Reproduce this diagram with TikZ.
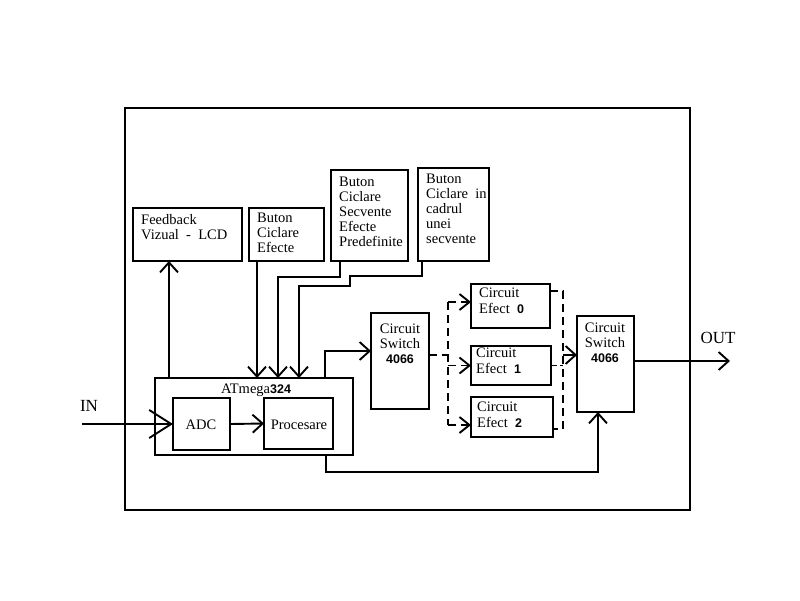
\documentclass[tikz,border=0pt]{standalone}
\usepackage{fontspec}
\setmainfont{Liberation Serif}
\setsansfont{Liberation Sans}
\usetikzlibrary{arrows.meta}
\newcommand\dg[1]{{\sffamily\bfseries\fontsize{12.5}{14}\selectfont #1}}
\begin{document}
\begin{tikzpicture}[x=1pt,y=-1pt,
  lw/.style={line width=1.9pt},
  blk/.style={draw,lw,rectangle,inner sep=0,outer sep=0,anchor=north west},
  txt/.style={inner sep=0,align=left,anchor=base west,font=\fontsize{14.5}{14.8}\selectfont},
  ctxt/.style={inner sep=0,align=center,anchor=base,font=\fontsize{14.5}{14.8}\selectfont},
  arr/.style={lw,-{Straight Barb[length=10pt,width=18pt]}},
  arrbig/.style={lw,-{Straight Barb[length=22pt,width=28pt]}},
  dsh/.style={lw,dash pattern=on 8pt off 5pt},
  dsharr/.style={dsh,-{Straight Barb[length=10pt,width=16pt]}}]
\useasboundingbox (0,0) rectangle (800,600);
% frame
\node[blk,minimum width=565pt,minimum height=402pt] (frame) at (125,108) {};
% boxes
\node[blk,minimum width=109pt,minimum height=53pt] (fb) at (133,208) {};
\node[blk,minimum width=75pt,minimum height=53pt] (be) at (249,208) {};
\node[blk,minimum width=77pt,minimum height=91pt] (bs) at (331,170) {};
\node[blk,minimum width=71pt,minimum height=93pt] (bi) at (418,168) {};
\node[blk,minimum width=198pt,minimum height=77pt] (atm) at (155,378) {};
\node[blk,minimum width=57pt,minimum height=52pt] (adc) at (173,398) {};
\node[blk,minimum width=69pt,minimum height=51pt] (proc) at (264,398) {};
\node[blk,minimum width=58pt,minimum height=96pt] (sw1) at (371,313) {};
\node[blk,minimum width=79pt,minimum height=44pt] (e0) at (471,284) {};
\node[blk,minimum width=80pt,minimum height=39pt] (e1) at (471,346) {};
\node[blk,minimum width=82pt,minimum height=40pt] (e2) at (471,397) {};
\node[blk,minimum width=57pt,minimum height=96pt] (sw2) at (577,316) {};
% texts (anchor = baseline of last line)
\node[txt] (fbt) at (141,239.5) {Feedback\\Vizual\ \ -\ \ LCD};
\node[txt] (bet) at (257,252) {Buton\\Ciclare\\Efecte};
\node[txt] (bst) at (339,246) {Buton\\Ciclare\\Secvente\\Efecte\\Predefinite};
\node[txt,font=\fontsize{14.5}{15}\selectfont] (bit) at (426,243) {Buton\\Ciclare\ \ in\\cadrul\\unei\\secvente};
\node[ctxt] (atmt) at (256,393) {ATmega\dg{324}};
\node[ctxt] (adct) at (201,429) {ADC};
\node[ctxt] (proct) at (299,429) {Procesare};
\node[ctxt] (sw1t) at (400,363) {Circuit\\Switch\\\dg{4066}};
\node[ctxt] (sw2t) at (605,362) {Circuit\\Switch\\\dg{4066}};
\node[txt,font=\fontsize{14.5}{15.5}\selectfont] (e0t) at (479,313) {Circuit\\Efect\ \ \dg{0}};
\node[txt,font=\fontsize{14.5}{15.5}\selectfont] (e1t) at (476,373) {Circuit\\Efect\ \ \dg{1}};
\node[txt,font=\fontsize{14.5}{15.5}\selectfont] (e2t) at (477,427) {Circuit\\Efect\ \ \dg{2}};
\node[ctxt,font=\fontsize{17}{18}\selectfont] (inl) at (89,411) {IN};
\node[ctxt,font=\fontsize{17}{18}\selectfont] (outl) at (718,343) {OUT};
% coordinates
\coordinate (in) at (82,424);
\coordinate (out) at (730,361);
\coordinate (sl) at (448,355);
\coordinate (mr) at (563,355);
\coordinate (e0in) at ([yshift=4pt]e0.west);
\coordinate (e1in) at (e1.west);
\coordinate (e2in) at ([yshift=-8pt]e2.west);
% connectors
\draw[arr] ([xshift=14pt]atm.north west) -- ([xshift=14pt]atm.north west |- fb.south);
\draw[arr] ([xshift=8pt]be.south west) -- ([xshift=8pt]be.south west |- atm.north);
\draw[arr] ([xshift=9pt]bs.south west) -- ++(0,16) -| ([xshift=123pt]atm.north west);
\draw[arr] ([xshift=4pt]bi.south west) -- ++(0,15) -- ++(-72,0) -- ++(0,10) -| ([xshift=144pt]atm.north west);
\draw[arr] ([xshift=170pt]atm.north west) |- ([yshift=10pt]sw1.west);
\draw[arrbig] (in) -- (in -| adc.west);
\draw[arr] (adc.east) -- (proc.west);
\draw[arr] ([xshift=171pt]atm.south west) -- ++(0,17) -| ([xshift=21pt]sw2.south west);
\draw[arr] ([yshift=3pt]sw2.east) -- (out);
% dashed
\draw[dsh] ([yshift=6pt]sw1.east) -- (sl);
\draw[dsh] (e0in -| sl) -- (e2in -| sl);
\draw[dsharr] (e0in -| sl) -- (e0in);
\draw[dsharr] (e1in -| sl) -- (e1in);
\draw[dsharr] (e2in -| sl) -- (e2in);
\draw[dsh] ([yshift=15pt]e0.east) -- ++(13,0) |- ([yshift=-12pt]e2.east);
\draw[lw,dash pattern=on 6pt off 3pt] (e1.east) -- (e1.east -| mr);
\draw[arr] (mr) -- (mr -| sw2.west);
\end{tikzpicture}
\end{document}
